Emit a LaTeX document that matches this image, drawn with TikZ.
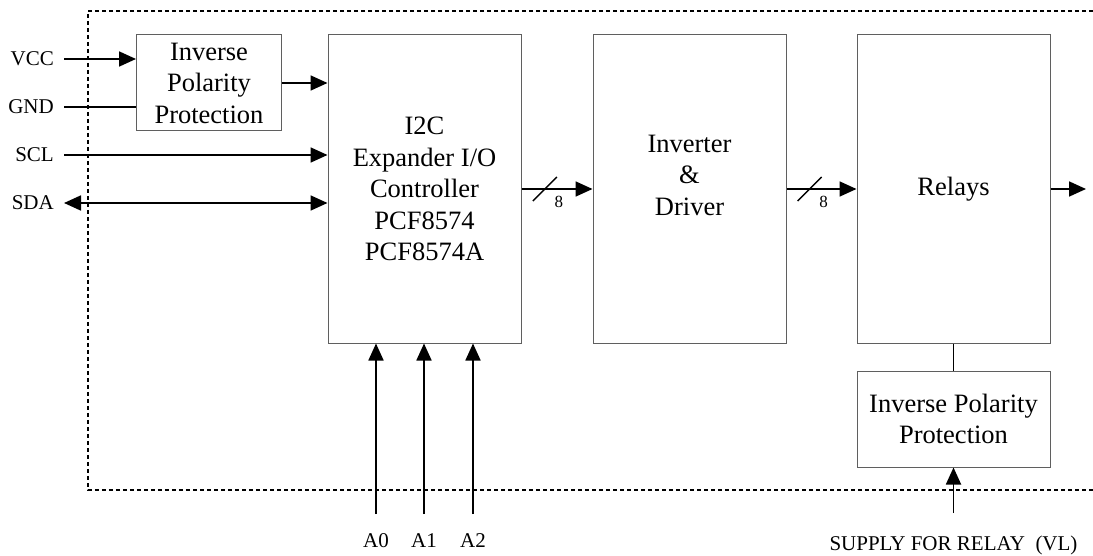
\documentclass[tikz,border=0pt]{standalone}
\usepackage{fontspec}
\setmainfont{Liberation Serif}
\usetikzlibrary{arrows.meta,positioning}
\newcommand{\boxfont}{\fontsize{26.5}{31.5}\selectfont}
\newcommand{\pinfont}{\fontsize{21}{25}\selectfont}
\newcommand{\busfont}{\fontsize{17}{19}\selectfont}
\definecolor{boxgray}{RGB}{95,95,95}
\tikzset{>={Triangle[length=17pt,width=15pt]}}
\tikzset{blk/.style={draw=boxgray, line width=1pt, align=center, font=\boxfont, inner sep=0pt},
	pin/.style={font=\pinfont, inner sep=3pt},
	wire/.style={line width=1.8pt},
	frame/.style={line width=1.6pt, dash pattern=on 4pt off 3pt}}

\begin{document}
\begin{tikzpicture}[x=1pt,y=-1pt]
	\useasboundingbox (0,0) rectangle (1093,556);
	
		\draw[frame] (1093,11) -- (88,11) -- (88,490) -- (1093,490);
		
		\node[blk, minimum width=145pt, minimum height=96pt] (ipp1) at (209,83) {Inverse\\Polarity\\Protection};
		\node[blk, minimum width=193pt, minimum height=308pt] (i2c) at (424.5,189) {I2C\\Expander I/O\\Controller\\PCF8574\\PCF8574A};
		\node[blk, minimum width=193pt, minimum height=308pt, label={[font=\boxfont, align=center, yshift=14pt]center:Inverter\\\&\\Driver}] (inv) at (689.5,189) {};
		\node[blk, minimum width=193pt, minimum height=308pt] (rel) at (953.5,189) {Relays};
		\node[blk, minimum width=193pt, minimum height=96pt] (ipp2) at (953.5,419) {Inverse Polarity\\Protection};
		
		\node[pin, anchor=east, inner xsep=10pt] (vcc) at (64,59) {VCC};
		\node[pin, anchor=east, inner xsep=10pt] (gnd) at (64,107) {GND};
		\node[pin, anchor=east, inner xsep=10pt] (scl) at (64,155) {SCL};
		\node[pin, anchor=east, inner xsep=10pt] (sda) at (64,203) {SDA};
		
		\draw[wire,->] (vcc) -- (vcc -| ipp1.west);
		\draw[wire] (gnd) -- (gnd -| ipp1.west);
		\draw[wire,->] (ipp1) -- (ipp1 -| i2c.west);
		\draw[wire,->] (scl) -- (scl -| i2c.west);
		\draw[wire,<->] (sda) -- (sda -| i2c.west);
		
		\draw[wire,->] (i2c) -- coordinate[pos=.33] (bus1) (inv);
		\draw[line width=1.5pt] ([shift={(-12,12)}]bus1) -- ([shift={(12,-12)}]bus1);
		\node[font=\busfont, inner sep=0pt] (n1) at ([shift={(14,13)}]bus1) {8};
		\draw[wire,->] (inv) -- coordinate[pos=.33] (bus2) (rel);
		\draw[line width=1.5pt] ([shift={(-12,12)}]bus2) -- ([shift={(12,-12)}]bus2);
		\node[font=\busfont, inner sep=0pt] (n2) at ([shift={(14,13)}]bus2) {8};
		
		\coordinate (relout) at (1086,189);
		\draw[wire,->] (rel) -- (relout);
		\draw[line width=1.5pt] (rel) -- (ipp2);
		
		\node[pin, anchor=north, inner ysep=19pt] (a0) at (376,514) {A0};
		\node[pin, anchor=north, inner ysep=19pt] (a1) at (424,514) {A1};
		\node[pin, anchor=north, inner ysep=19pt] (a2) at (473,514) {A2};
		\draw[wire,->] (a0) -- (a0 |- i2c.south);
		\draw[wire,->] (a1) -- (a1 |- i2c.south);
		\draw[wire,->] (a2) -- (a2 |- i2c.south);
		
		\node[pin, anchor=north, inner ysep=23pt] (vl) at (953.5,513) {SUPPLY FOR RELAY\ \ (VL)};
		\draw[wire,->] (vl) -- (ipp2);
		
	\end{tikzpicture}
\end{document}
